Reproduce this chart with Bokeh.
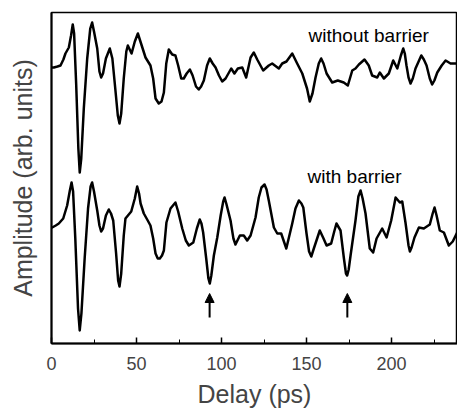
from bokeh.plotting import figure
from bokeh.models import Range1d, FixedTicker, Arrow, NormalHead, Label
from bokeh.embed import file_html
from bokeh.resources import INLINE

# Delay (ps) and amplitude (arb. units)
t_without = [0, 1.4, 3.5, 5.3, 7.0, 8.2, 10.2, 11.5, 12.5, 13.3, 14.5, 15.8, 16.6, 17.5, 19.0, 21.0,
             22.8, 23.9, 25.0, 26.9, 28.2, 29.2, 30.3, 32.0, 34.3, 35.8, 37.5, 39.0, 40.0, 41.0,
             42.5, 44.0, 44.9, 47.1, 49.0, 50.8, 52.3, 55.3, 58.2, 59.8, 61.2, 63.1, 64.7, 66.1,
             67.5, 69.0, 71.0, 72.9, 74.5, 76.3, 77.8, 79.5, 81.4, 83.0, 85.0, 86.6, 88.0, 89.6,
             91.5, 93.1, 94.8, 96.5, 98.5, 100.4, 102.4, 105.7, 107.6, 109.6, 112.2, 114.5, 117.1,
             119.0, 121.0, 124.5, 127.8, 129.8, 133.7, 135.7, 138.2, 141.6, 144.5, 147.5, 150.3,
             151.9, 153.5, 155.3, 157.2, 158.6, 160.0, 161.8, 165.1, 168.4, 171.9, 174.3, 176.9,
             178.8, 180.8, 184.1, 186.6, 188.6, 191.6, 193.1, 195.5, 198.4, 201.0, 203.4, 205.5,
             206.9, 207.8, 208.8, 210.0, 211.2, 212.5, 214.1, 217.5, 219.0, 220.6, 222.5, 223.9,
             225.2, 226.9, 229.5, 231.8, 234.7, 238.6]
a_without = [2.76, 2.76, 2.77, 2.78, 2.84, 2.90, 2.96, 3.08, 3.19, 3.10, 2.60, 1.95, 1.71, 1.85, 2.35, 2.85,
             3.15, 3.21, 3.12, 2.95, 2.72, 2.66, 2.70, 2.85, 2.95, 2.85, 2.55, 2.28, 2.20, 2.30,
             2.65, 2.92, 2.98, 2.90, 3.02, 3.10, 3.02, 2.86, 2.78, 2.65, 2.45, 2.40, 2.42, 2.51,
             2.80, 2.94, 2.89, 2.88, 2.78, 2.65, 2.65, 2.70, 2.74, 2.68, 2.57, 2.54, 2.57, 2.63,
             2.78, 2.85, 2.80, 2.76, 2.68, 2.62, 2.65, 2.75, 2.70, 2.75, 2.76, 2.66, 2.86,
             2.91, 2.84, 2.73, 2.78, 2.80, 2.75, 2.80, 2.82, 2.90, 2.80, 2.70, 2.55,
             2.42, 2.50, 2.66, 2.80, 2.85, 2.80, 2.70, 2.61, 2.63, 2.61, 2.58, 2.73,
             2.75, 2.79, 2.84, 2.78, 2.68, 2.66, 2.71, 2.65, 2.70, 2.83, 2.75, 2.88,
             2.95, 2.90, 2.78, 2.66, 2.60, 2.65, 2.75, 2.88, 2.84, 2.78, 2.65, 2.59,
             2.63, 2.71, 2.78, 2.83, 2.80, 2.80]

t_with = [0, 0.4, 2.5, 4.3, 6.9, 9.2, 10.8, 11.8, 12.7, 14.0, 15.6, 16.6, 17.6, 19.5, 21.5, 23.0,
          23.9, 25.0, 26.9, 28.2, 29.2, 30.3, 32.0, 33.7, 35.0, 36.3, 38.0, 39.2, 40.0, 41.0, 42.5,
          43.5, 46.9, 49.0, 50.4, 51.5, 52.4, 54.3, 56.6, 58.2, 59.8, 61.2, 62.5, 63.7, 65.0, 66.1,
          67.6, 70.0, 72.9, 74.5, 76.9, 79.0, 80.8, 83.4, 85.5, 87.2, 88.2, 89.2, 91.0, 92.3, 93.1,
          94.0, 95.5, 97.5, 99.5, 101.0, 101.8, 102.8, 105.3, 107.0, 108.2, 110.8, 113.1, 115.1,
          117.1, 120.0, 121.9, 123.5, 125.3, 126.5, 127.8, 130.8, 132.8, 135.1, 138.1, 141.6,
          143.5, 145.5, 147.0, 148.1, 150.0, 151.5, 152.8, 154.3, 157.8, 160.0, 161.8, 164.5,
          166.3, 167.6, 170.0, 172.0, 173.2, 173.9, 174.8, 175.9, 178.8, 180.5, 181.8, 183.0,
          184.7, 187.2, 189.2, 191.2, 194.5, 197.1, 199.8, 202.4, 204.9, 206.3, 208.2, 210.0,
          210.8, 211.8, 213.5, 216.1, 219.0, 222.5, 224.2, 225.3, 226.5, 228.4, 230.8, 233.7,
          236.0, 238.6]
a_with = [1.16, 1.16, 1.18, 1.20, 1.25, 1.38, 1.53, 1.61, 1.52, 1.05, 0.35, 0.13, 0.30, 0.85, 1.35, 1.57,
          1.61, 1.52, 1.33, 1.18, 1.12, 1.15, 1.28, 1.34, 1.30, 1.23, 0.90, 0.63, 0.57, 0.70, 1.08,
          1.25, 1.32, 1.45, 1.57, 1.50, 1.40, 1.30, 1.23, 1.18, 1.05, 0.90, 0.85, 0.85, 0.88, 0.93,
          1.21, 1.35, 1.41, 1.32, 1.15, 1.03, 0.98, 1.01, 1.15, 1.24, 1.20, 1.11, 0.85, 0.65, 0.60,
          0.68, 0.88, 1.06, 1.28, 1.42, 1.46, 1.40, 1.23, 1.05, 0.99, 1.08, 1.08, 1.03,
          1.08, 1.26, 1.46, 1.56, 1.59, 1.54, 1.43, 1.16, 1.10, 1.10, 0.95, 1.20,
          1.35, 1.43, 1.40, 1.36, 1.10, 0.92, 0.87, 0.95, 1.13, 1.05, 0.98, 1.00,
          1.12, 1.20, 1.13, 0.85, 0.70, 0.68, 0.74, 0.88, 1.23, 1.47, 1.53, 1.45,
          1.30, 0.95, 0.91, 1.05, 1.15, 1.06, 1.23, 1.46, 1.41, 1.42, 1.21, 0.98,
          0.92, 0.96, 1.06, 1.16, 1.15, 1.19, 1.30, 1.36, 1.28, 1.13, 1.11, 0.98,
          1.02, 1.11]

arrow_delays = [93, 174]
arrow_tail, arrow_tip = 0.26, 0.50
x_ticks = [0, 50, 100, 150, 200]
labels = ["without barrier", "with barrier"]
label_pos = [(151.2, 3.08), (150.6, 1.67)]

FONT = "Liberation Sans"

p = figure(width=457, height=415, output_backend="svg", toolbar_location=None,
           x_range=Range1d(0, 238.8), y_range=Range1d(0, 3.31),
           min_border_left=51, min_border_top=12, min_border_right=0, min_border_bottom=72)
p.grid.visible = False
p.background_fill_color = "white"
p.border_fill_color = "white"
p.outline_line_color = "black"
p.outline_line_width = 1.5

p.line(t_without, a_without, line_color="black", line_width=2.5, line_join="round")
p.line(t_with, a_with, line_color="black", line_width=2.5, line_join="round")

for d in arrow_delays:
    p.add_layout(Arrow(end=NormalHead(size=9, fill_color="black", line_color="black"),
                       x_start=d, y_start=arrow_tail, x_end=d, y_end=arrow_tip,
                       line_color="black", line_width=2))

for txt, (x, y) in zip(labels, label_pos):
    p.add_layout(Label(x=x, y=y, text=txt, text_font=FONT, text_font_size="19px",
                       text_baseline="middle", text_align="left", text_color="black"))

xa = p.xaxis[0]
xa.ticker = FixedTicker(ticks=x_ticks, minor_ticks=[25, 75, 125, 175, 225])
xa.axis_label = "Delay (ps)"
xa.axis_label_text_font = FONT
xa.axis_label_text_font_size = "25px"
xa.axis_label_text_font_style = "normal"
xa.axis_label_standoff = 7
xa.major_label_text_font = FONT
xa.major_label_text_font_size = "18px"
xa.major_label_standoff = 13
xa.major_tick_in = 6
xa.major_tick_out = 0
xa.minor_tick_in = 4
xa.minor_tick_out = 0
xa.axis_line_width = 2
xa.major_tick_line_width = 1.5

ya = p.yaxis[0]
ya.ticker = FixedTicker(ticks=[])
ya.axis_label = "Amplitude (arb. units)"
ya.axis_label_text_font = FONT
ya.axis_label_text_font_size = "25px"
ya.axis_label_text_font_style = "normal"
ya.axis_label_standoff = 15
ya.axis_line_width = 2
ya.major_tick_line_color = None
ya.minor_tick_line_color = None

open("out.html", "w").write(file_html(p, INLINE))
